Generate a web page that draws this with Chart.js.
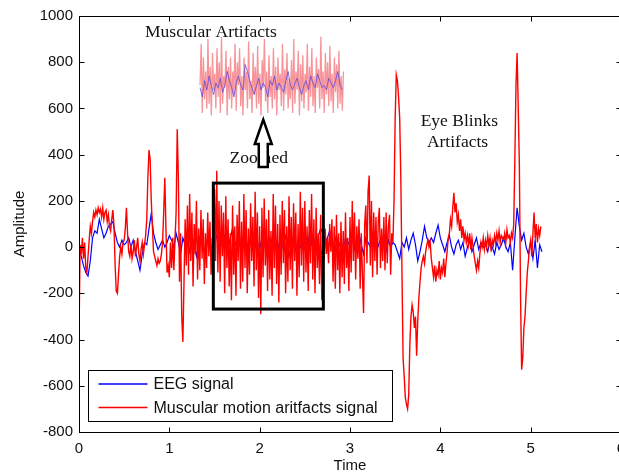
<!DOCTYPE html>
<html>
<head>
<meta charset="utf-8">
<script src="https://cdn.jsdelivr.net/npm/chart.js@4.4.1/dist/chart.umd.min.js"></script>
<style>
  html, body { margin: 0; padding: 0; background: #fff; overflow: hidden; }
  #wrap { width: 640px; height: 473px; }
</style>
</head>
<body>
<div id="wrap"><canvas id="myChart"></canvas></div>
<script>
// sampling step of each trace (time units)
const stepRed = 0.0125;
const stepBlue = 0.025;

const xTicks = [0, 1, 2, 3, 4, 5, 6];
const yTicks = [-800, -600, -400, -200, 0, 200, 400, 600, 800, 1000];

// EEG signal (blue)
const eegSignal = [
  0, -40, -80, -110, -125, -60, 40, 70, 60, 120, 80, 40, 60, 90, 100, 110,
  60, 20, 0, 30, 10, 20, 40, 0, 30, -20, -60, -100, -30, 20, 10, 80,
  145, 60, 20, -10, 10, 30, 0, 20, 50, 30, 0, 60, 20, -30, 40, 10,
  30, -20, 50, 10, -40, 20, 60, 0, -30, 40, 10, -10,
  20, 50, -20, 10, 60, 30, -10, 40, 80, 20, 0, 50, -30, 10, 40, -20, 30, 60, 0, 20,
  -10, 40, 20, -30, 50, 10, 70, 30, -20, 40, 0, 60, 20, -40, 10, 50, -10, 30, 0, 40,
  20, -30, 60, 10, 30, -20, 50, 80, 60, 20, 40, 70, 30, 10, 50, 0, 30, -20, 40, 10,
  30, 50, -10, 20, 60, 10, -30, 40, 20, 0, 50, 30, -10, 20, 40, 10, -20, 30, 0, 20,
  10, -20, -50, 20, 0, 40, -10, 30, 60, 10, -60, -20, 30, 90, 40, 20, 40, 20, 60, 95,
  40, 10, -20, 20, 50, 0, -30, 10, 30, -10, 20, -40, 0, 30, -20, 10, 40, -10, 20, 0,
  10, -20, 30, 0, -30, 20, -10, 10, 40, 0, -20, 20, -100, 40, 170, 90, 30, 60, 0, -30,
  20, -50, 30, -90, 10, -20
];

// Muscular motion artifacts signal (red)
const muscularSignal = [
  -380, 10, -30, 40, -50, 20, -90, -110,
  -40, 30, 90, 60, 110, 150, 130, 160,
  140, 170, 150, 165, 130, 170, 120, 150,
  160, 110, 140, 90, 70, 120, 160, 90,
  -80, -190, -200, -120, -40, 0, -30, 20,
  30, 80, 170, 60, -20, -40, 10, -50,
  -20, 30, -40, 0, 40, -30, -60, -10,
  20, -30, 10, 50, 120, 300, 420, 380,
  200, 90, -20, -40, -60, -80, -50, -70,
  -60, -30, 20, 150, 300, 80, -110, -80,
  -130, 20, -90, 40, -100, 30, 150, 510,
  300, -150, 60, -300, -410, -150, 120, -80,
  180, -120, 230, -60, 150, -170, 100, -30,
  200, -140, 80, -100, 160, -50, 120, -160,
  60, -90, 150, -40, 110, -120, 40, -80,
  250, -60, 330, -110, 200, -150, 180, -40,
  150, -200, 220, -90, 120, -170, 60, -230,
  180, -120, 90, -210, 140, -60, 200, -180,
  110, -150, 230, -90, 160, -200, 80, -120,
  190, -60, 130, -170, 240, -100, 150, -220,
  90, -290, 170, -130, 210, -80, 120, -190,
  160, -140, 70, -210, 230, -90, 180, -160,
  100, -240, 140, -120, 200, -70, 160, -200,
  90, -150, 220, -100, 130, -180, 190, -60,
  150, -210, 100, -130, 240, -80, 170, -150,
  200, -110, 90, -190, 160, -70, 230, -140,
  120, -200, 170, -90, 60, -160, 140, -230,
  60, -50, 80, -30, 40, -70, 100, -20,
  120, -150, 90, -180, 140, -100, 60, -200,
  110, -130, 70, -160, 150, -90, 40, -190,
  130, -110, 200, -60, 150, -140, 90, -50,
  120, -180, 60, -120, -285, 100, 180, -70,
  240, 310, -80, 200, -130, 150, -60, 130,
  -120, 110, 170, -90, 80, -60, 130, -100,
  150, -70, 90, 140, -120, 60, 20, 200,
  560, 745, 720, 650, 560, 300, -100, -480,
  -560, -650, -680, -700, -640, -420, -300, -250,
  -280, -350, -300, -470, -320, -220, -150, -90,
  -60, -40, -70, -20, 10, 30, 0, 20,
  -50, -90, -130, -80, -150, -100, -120, -60,
  -140, -90, -110, -50, -130, -70, -20, 40,
  60, 120, 90, 170, 235, 150, 190, 110,
  140, 70, 120, 40, 90, 30, 60, 20,
  50, 10, 60, -10, 40, 0, -40, -70,
  -100, -60, -90, -30, 20, 0, 40, -10,
  30, 0, 50, 10, 40, -20, 30, 10,
  50, 20, 60, 30, 70, 20, 50, 40,
  30, 60, 20, 75, 40, 50, 20, 60,
  40, 100, 380, 700, 840, 600, 350, -200,
  -530, -480, -350, -300, -200, -110, -60, 0,
  30, -40, 60, 150, 40, 100, 20, 80,
  50, 90
];

// zoomed inset (drawn on the same axes, above the signals)
const zoomStart = 1.34;
const zoomRed = [
  700, 880, 580, 820, 640, 760, 600, 900, 620, 780, 570, 840, 680, 750, 600, 860,
  650, 800, 580, 910, 620, 740, 690, 850, 570, 780, 640, 820, 600, 760, 660, 880,
  590, 800, 700, 860, 610, 740, 570, 820, 680, 760, 600, 890, 640, 720, 580, 840,
  660, 780, 600, 870, 620, 750, 570, 810, 690, 900, 630, 760, 580, 830, 650, 740,
  600, 860, 640, 780, 570, 820, 680, 750, 610, 880, 590, 770, 660, 840, 600, 730,
  640, 810, 580, 900, 620, 760, 680, 850, 570, 790, 630, 830, 600, 750, 670, 880,
  590, 780, 650, 860, 610, 740, 580, 820, 690, 770, 600, 910, 640, 760, 580, 840,
  660, 800, 610, 870, 630, 750, 580, 820, 670, 790, 600, 850, 620, 740, 590, 760
];
const zoomBlue = [
  690, 650, 720, 680, 740, 700, 660, 710, 690, 730, 670, 700, 760, 720, 690, 650,
  710, 740, 700, 680, 790, 760, 720, 690, 660, 700, 730, 680, 710, 690, 650, 720,
  700, 740, 680, 710, 690, 670, 720, 760, 700, 680, 710, 730, 690, 660, 700, 720,
  680, 740, 710, 690, 750, 720, 690, 700, 680, 730, 710, 690, 720, 760, 700, 680
];

const toPoints = (vals, t0, dt) => vals.map((v, i) => ({ x: t0 + i * dt, y: v }));

// annotation placement (data units)
const boxArea = { t0: 1.487, t1: 2.705, v0: -268, v1: 277 };
const arrow = { t: 2.04, tip: 552, head: 446, tail: 347 };
const notes = [
  { text: 'Muscular Artifacts', t: 1.46, v: 930 },
  { text: 'Zoomed', t: 1.99, v: 385 },
  { text: 'Eye Blinks', t: 4.21, v: 542 },
  { text: 'Artifacts', t: 4.19, v: 451 }
];

const sansFont = '"Liberation Sans", Arial, sans-serif';
const serifFont = '"Liberation Serif", "Times New Roman", serif';

const decor = {
  id: 'decor',
  afterDatasetsDraw(chart) {
    const { ctx, chartArea: a, scales: { x, y } } = chart;
    ctx.save();

    // frame + inward ticks
    const L = Math.round(a.left) + 0.5, R = Math.round(a.right) + 0.5;
    const T = Math.round(a.top) + 0.5, B = Math.round(a.bottom) + 0.5;
    ctx.strokeStyle = '#000';
    ctx.lineWidth = 1;
    ctx.strokeRect(L, T, R - L, B - T);
    ctx.beginPath();
    xTicks.forEach(t => {
      const px = Math.round(x.getPixelForValue(t)) + 0.5;
      ctx.moveTo(px, B); ctx.lineTo(px, B - 5);
      ctx.moveTo(px, T); ctx.lineTo(px, T + 5);
    });
    yTicks.forEach(v => {
      const py = Math.round(y.getPixelForValue(v)) + 0.5;
      ctx.moveTo(L, py); ctx.lineTo(L + 5, py);
      ctx.moveTo(R, py); ctx.lineTo(R - 5, py);
    });
    ctx.stroke();

    // zoom rectangle
    ctx.lineWidth = 3;
    const bx0 = x.getPixelForValue(boxArea.t0), bx1 = x.getPixelForValue(boxArea.t1);
    const by0 = y.getPixelForValue(boxArea.v1), by1 = y.getPixelForValue(boxArea.v0);
    ctx.strokeRect(bx0, by0, bx1 - bx0, by1 - by0);

    // text notes
    ctx.fillStyle = '#111';
    ctx.font = '17.5px ' + serifFont;
    ctx.textAlign = 'center';
    ctx.textBaseline = 'middle';
    notes.forEach(n => ctx.fillText(n.text, x.getPixelForValue(n.t), y.getPixelForValue(n.v)));

    // hollow up arrow
    const ax = x.getPixelForValue(arrow.t);
    const tipY = y.getPixelForValue(arrow.tip);
    const headY = y.getPixelForValue(arrow.head);
    const tailY = y.getPixelForValue(arrow.tail);
    ctx.beginPath();
    ctx.moveTo(ax, tipY);
    ctx.lineTo(ax + 8.5, headY);
    ctx.lineTo(ax + 4.5, headY);
    ctx.lineTo(ax + 4.5, tailY);
    ctx.lineTo(ax - 4.5, tailY);
    ctx.lineTo(ax - 4.5, headY);
    ctx.lineTo(ax - 8.5, headY);
    ctx.closePath();
    ctx.fillStyle = '#fff';
    ctx.fill();
    ctx.lineWidth = 2.5;
    ctx.lineJoin = 'miter';
    ctx.stroke();

    // legend box
    const lx = Math.round(a.left + 9) + 0.5, ly = Math.round(a.bottom - 62) + 0.5;
    const lw = 304, lh = 51;
    ctx.fillStyle = '#fff';
    ctx.fillRect(lx, ly, lw, lh);
    ctx.lineWidth = 1;
    ctx.strokeStyle = '#000';
    ctx.strokeRect(lx, ly, lw, lh);
    const items = chart.data.datasets.filter(d => d.inLegend);
    ctx.font = '16px ' + sansFont;
    ctx.textAlign = 'left';
    items.forEach((d, i) => {
      const yy = ly + 13.5 + i * 23.5;
      ctx.strokeStyle = d.borderColor;
      ctx.lineWidth = 1.5;
      ctx.beginPath();
      ctx.moveTo(lx + 10, yy);
      ctx.lineTo(lx + 59, yy);
      ctx.stroke();
      ctx.fillStyle = '#111';
      ctx.fillText(d.label, lx + 65, yy + 1);
    });
    ctx.restore();
  }
};

new Chart(document.getElementById('myChart'), {
  type: 'line',
  data: {
    datasets: [
      {
        label: 'EEG signal', inLegend: true, order: 2,
        data: toPoints(eegSignal, 0, stepBlue),
        borderColor: '#0000ff', borderWidth: 1.2
      },
      {
        label: 'Muscular motion aritfacts signal', inLegend: true, order: 1,
        data: toPoints(muscularSignal, 0, stepRed),
        borderColor: '#ff0000', borderWidth: 1.4
      },
      {
        label: 'zoom red', order: 3,
        data: toPoints(zoomRed, zoomStart, stepRed),
        borderColor: 'rgba(240,60,70,0.55)', borderWidth: 1.3
      },
      {
        label: 'zoom blue', order: 0,
        data: toPoints(zoomBlue, zoomStart, stepBlue),
        borderColor: 'rgba(90,70,220,0.75)', borderWidth: 1
      }
    ]
  },
  options: {
    responsive: true,
    maintainAspectRatio: false,
    animation: false,
    layout: { padding: { top: 16, right: 19, left: 0, bottom: 0 } },
    elements: { point: { radius: 0 }, line: { tension: 0 } },
    plugins: { legend: { display: false }, tooltip: { enabled: false } },
    scales: {
      x: {
        type: 'linear', min: 0, max: 6,
        afterBuildTicks: s => { s.ticks = xTicks.map(v => ({ value: v })); },
        afterFit: s => { s.height = 41; },
        grid: { display: false, drawTicks: false },
        border: { display: false },
        ticks: { padding: 8, color: '#111', font: { family: sansFont, size: 15 }, maxRotation: 0, callback: v => String(v) },
        title: { display: true, text: 'Time', color: '#111', font: { family: sansFont, size: 15, lineHeight: 1 }, padding: { top: 0, bottom: 0 } }
      },
      y: {
        type: 'linear', min: -800, max: 1000,
        afterBuildTicks: s => { s.ticks = yTicks.map(v => ({ value: v })); },
        afterFit: s => { s.width = 79; },
        grid: { display: false, drawTicks: false },
        border: { display: false },
        ticks: { padding: 6, color: '#111', font: { family: sansFont, size: 15 }, callback: v => String(v) },
        title: { display: true, text: 'Amplitude', color: '#111', font: { family: sansFont, size: 15, lineHeight: 1 }, padding: { top: 12, bottom: 0 } }
      }
    }
  },
  plugins: [decor]
});
</script>
</body>
</html>
